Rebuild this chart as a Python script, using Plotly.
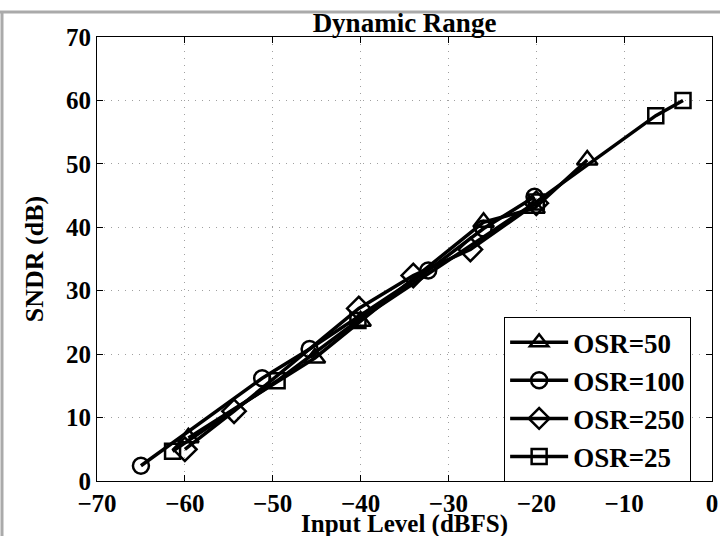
import plotly.graph_objects as go

# ---- data ----
osr50_x = [-59.6, -45.2, -40.0, -26.0, -20.2, -14.2]
osr50_y = [6.8, 19.4, 25.2, 40.8, 43.0, 50.6]
osr100_x = [-65.0, -51.2, -45.8, -32.3, -26.0, -20.2]
osr100_y = [2.4, 16.2, 20.8, 33.2, 39.8, 44.8]
osr250_x = [-60.0, -54.4, -40.2, -34.0, -27.5, -20.0]
osr250_y = [5.0, 11.0, 27.2, 32.4, 36.5, 43.8]
osr25_x = [-61.4, -49.5, -40.3, -20.0, -6.4, -3.3]
osr25_y = [4.7, 15.8, 25.3, 44.0, 57.6, 60.0]

series_names = ["OSR=50", "OSR=100", "OSR=250", "OSR=25"]
x_ticks = [-70, -60, -50, -40, -30, -20, -10, 0]
y_ticks = [0, 10, 20, 30, 40, 50, 60, 70]

FONT = "Liberation Serif, Times New Roman, serif"

fig = go.Figure()
specs = [
    (osr50_x, osr50_y, "triangle-up-open", 18),
    (osr100_x, osr100_y, "circle-open", 16),
    (osr250_x, osr250_y, "diamond-open", 18),
    (osr25_x, osr25_y, "square-open", 15),
]
for (xs, ys, sym, sz), name in zip(specs, series_names):
    fig.add_trace(go.Scatter(
        x=xs, y=ys, name=name, mode="lines+markers",
        line=dict(color="black", width=3.5),
        marker=dict(symbol=sym, size=sz, color="black",
                    line=dict(color="black", width=2.5)),
    ))

axis_common = dict(
    showline=True, linecolor="black", linewidth=1, mirror="ticks",
    ticks="inside", ticklen=6, tickcolor="black", tickwidth=1,
    showgrid=True, gridcolor="#a0a0a0", griddash="1px,6px", gridwidth=1,
    zeroline=False,
    tickfont=dict(family=FONT, size=25, color="black", weight="bold"),
)

fig.update_xaxes(range=[-70, 0], tickvals=x_ticks, **axis_common)
fig.update_yaxes(range=[0, 70], tickvals=y_ticks, **axis_common,
                 title=dict(text="SNDR (dB)", standoff=14,
                            font=dict(family=FONT, size=26, color="black", weight="bold")))

# x-axis title placed as text just below the tick labels
fig.add_annotation(text="Input Level (dBFS)", xref="paper", yref="paper",
                   x=0.5, y=-(524 - 481) / 444, xanchor="center", yanchor="middle",
                   showarrow=False,
                   font=dict(family=FONT, size=25, color="black", weight="bold"))

fig.update_layout(
    width=720, height=536,
    margin=dict(l=97, r=8, t=37, b=55, autoexpand=False),
    paper_bgcolor="white", plot_bgcolor="white",
    title=dict(text="Dynamic Range", x=(97 + 712) / 2 / 720, xanchor="center",
               y=1 - 23 / 536, yanchor="middle",
               font=dict(family=FONT, size=27, color="black", weight="bold")),
    legend=dict(x=0.662, y=0.369, xanchor="left", yanchor="top",
                bgcolor="white", bordercolor="black", borderwidth=1,
                font=dict(family=FONT, size=27, color="black", weight="bold"),
                itemwidth=58),
    showlegend=True,
)

# grey page frame (top and left edges)
fig.add_shape(type="line", xref="paper", yref="paper",
              x0=-0.2, x1=1.1, y0=(481 - 12) / 444, y1=(481 - 12) / 444,
              line=dict(color="#aaaaaa", width=3))
fig.add_shape(type="line", xref="paper", yref="paper",
              x0=(2 - 97) / 615, x1=(2 - 97) / 615, y0=-0.2, y1=(481 - 12) / 444,
              line=dict(color="#aaaaaa", width=3))

fig.write_html("out.html", config={"displayModeBar": False},
               post_script="document.body.style.margin='0';document.body.style.padding='0';")
